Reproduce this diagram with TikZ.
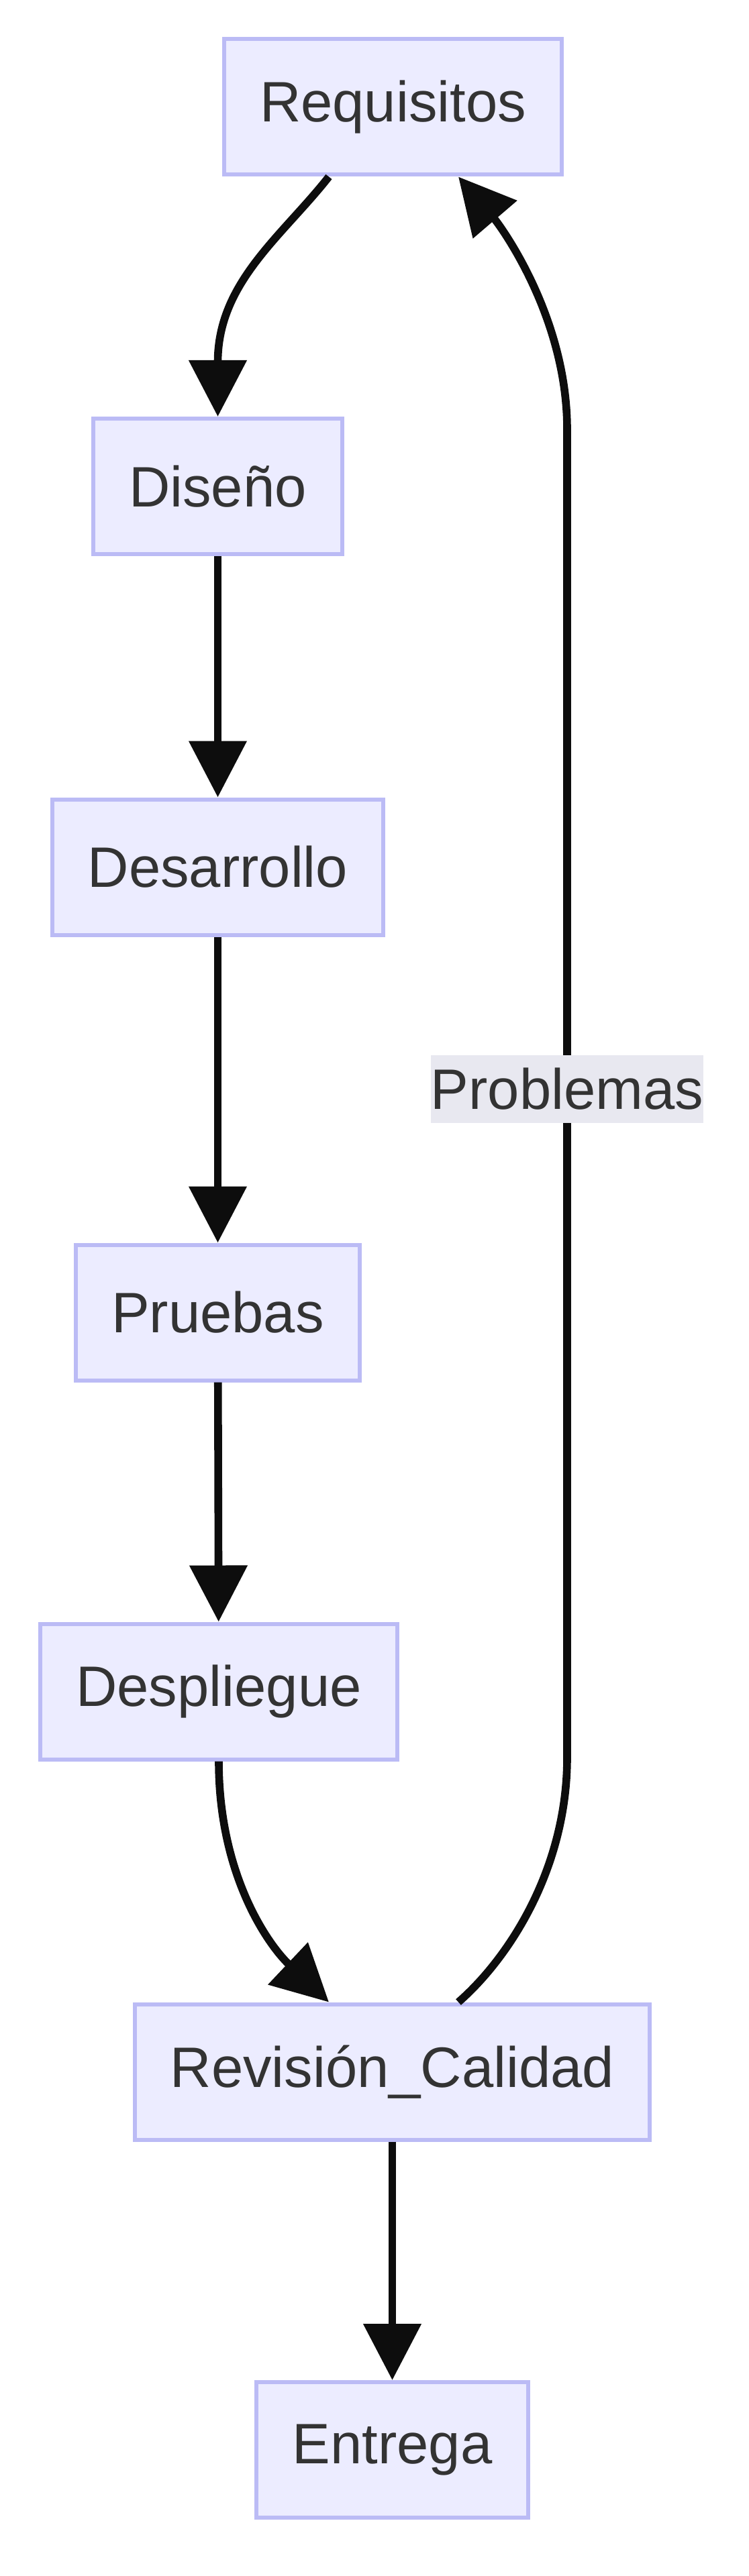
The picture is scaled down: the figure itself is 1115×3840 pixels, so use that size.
\documentclass[tikz,border=0pt]{standalone}
\usepackage{fontspec}
\setmainfont{Liberation Sans}
\usetikzlibrary{arrows.meta}

\definecolor{boxfill}{HTML}{ECECFF}
\definecolor{boxline}{RGB}{187,187,245}
\definecolor{textgray}{HTML}{333333}
\definecolor{edgeblack}{HTML}{0D0D0D}
\definecolor{lblfill}{HTML}{E8E8F0}

\begin{document}
\begin{tikzpicture}[x=0.25pt, y=-0.25pt,
  every node/.style={font=\fontsize{21.25}{25}\selectfont, text=textgray},
  box/.style={draw=boxline, line width=1.5pt, fill=boxfill, minimum height=50.5pt, inner xsep=13.3pt},
  lbl/.style={fill=lblfill, inner sep=0pt, minimum height=25.25pt},
  flow/.style={draw=edgeblack, line width=2.9pt, -{Triangle[length=21pt,width=21pt]}}]
  \useasboundingbox (0,0) rectangle (1115,3840);

  % steps
  \node[box] (req) at (585.5,159.5) {Requisitos};
  \node[box] (dis) at (324.5,725) {Diseño};
  \node[box] (des) at (324.5,1292.5) {Desarrollo};
  \node[box] (pru) at (324.5,1956.5) {Pruebas};
  \node[box] (dsp) at (326,2521.5) {Despliegue};
  \node[box] (rev) at (584.5,3088.5) {Revisión\_Calidad};
  \node[box] (ent) at (584.5,3652) {Entrega};

  % main flow
  \draw[flow] ([shift={(-95.5,0)}]req.south) .. controls +(-70,89) and +(0,-200) .. (dis.north);
  \draw[flow] (dis) -- (des);
  \draw[flow] (des) -- (pru);
  \draw[flow] (pru) -- (dsp);
  \draw[flow] (dsp.south) .. controls +(0,170) and +(-90,-85) .. ([shift={(-94.5,0)}]rev.north);
  \draw[flow] (rev) -- (ent);

  % feedback loop
  \draw[flow] ([shift={(98.5,0)}]rev.north) .. controls +(80,-70) and +(0,160) .. (845,2620)
    -- (845,640) .. controls +(0,-170) and +(60,70) .. ([shift={(97.5,0)}]req.south);
  \node[lbl] (prob) at (845,1623.5) {Problemas};
\end{tikzpicture}
\end{document}
